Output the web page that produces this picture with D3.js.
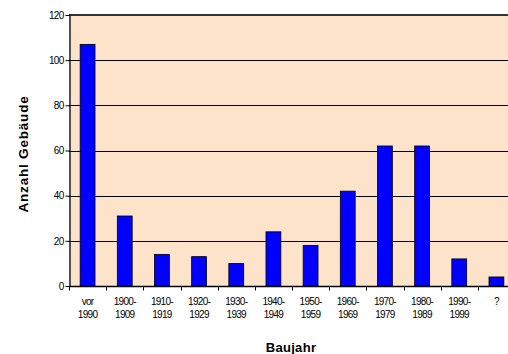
<!DOCTYPE html>
<html>
<head>
<meta charset="utf-8">
<script src="https://cdn.jsdelivr.net/npm/d3@7"></script>
<style>
  html, body { margin: 0; padding: 0; background: #fff; }
  svg { display: block; }
</style>
</head>
<body>
<svg id="chart" width="508" height="354"></svg>
<script>
// Baujahr categories (two-line labels) and number of buildings
const categories = [
  ["vor", "1990"], ["1900-", "1909"], ["1910-", "1919"], ["1920-", "1929"],
  ["1930-", "1939"], ["1940-", "1949"], ["1950-", "1959"], ["1960-", "1969"],
  ["1970-", "1979"], ["1980-", "1989"], ["1990-", "1999"], ["?"]
];
const counts = [107, 31, 14, 13, 10, 24, 18, 42, 62, 62, 12, 4];
const yTicks = [0, 20, 40, 60, 80, 100, 120];

const svg = d3.select("#chart");
const plotLeft = 69, plotRight = 515, plotTop = 15, plotBottom = 286;
const font = "Liberation Sans, Arial, sans-serif";

const x = d3.scaleBand()
  .domain(d3.range(categories.length))
  .range([plotLeft, plotRight])
  .paddingInner(0.6)
  .paddingOuter(0.3);

const y = d3.scaleLinear().domain([0, 120]).range([plotBottom, plotTop]);

// plot area
svg.append("rect")
  .attr("x", plotLeft).attr("y", plotTop)
  .attr("width", plotRight - plotLeft).attr("height", plotBottom - plotTop)
  .attr("fill", "#FDE3C9");

// horizontal gridlines
svg.append("g")
  .selectAll("line")
  .data(yTicks.filter(d => d > 0 && d < 120))
  .join("line")
  .attr("x1", plotLeft).attr("x2", plotRight)
  .attr("y1", d => Math.round(y(d)) + 0.5).attr("y2", d => Math.round(y(d)) + 0.5)
  .attr("stroke", "#000").attr("stroke-width", 1);

// top border
svg.append("line")
  .attr("x1", plotLeft).attr("x2", plotRight)
  .attr("y1", plotTop).attr("y2", plotTop)
  .attr("stroke", "#333").attr("stroke-width", 2);

// bars
svg.append("g")
  .selectAll("rect")
  .data(counts)
  .join("rect")
  .attr("x", (d, i) => x(i))
  .attr("y", d => y(d))
  .attr("width", x.bandwidth())
  .attr("height", d => plotBottom - y(d))
  .attr("fill", "#0000FF")
  .attr("stroke", "#000")
  .attr("stroke-width", 0.8);

// y axis
const yAxis = svg.append("g")
  .attr("transform", `translate(${plotLeft + 0.5},0)`)
  .call(d3.axisLeft(y).tickValues(yTicks).tickSize(4).tickSizeOuter(0).tickPadding(2));
yAxis.select(".domain").attr("stroke", "#000").attr("stroke-width", 1.3);
yAxis.selectAll(".tick line").attr("stroke", "#000");
yAxis.selectAll("text")
  .attr("font-family", font).attr("font-size", 10).attr("fill", "#000")
  .attr("letter-spacing", "-0.7");

// x axis: category boundaries as ticks
const xAxisG = svg.append("g").attr("transform", `translate(0,${plotBottom + 0.5})`);
xAxisG.append("line")
  .attr("x1", plotLeft).attr("x2", plotRight)
  .attr("stroke", "#000").attr("stroke-width", 1.3);
xAxisG.selectAll(".sep")
  .data(d3.range(categories.length))
  .join("line")
  .attr("class", "sep")
  .attr("x1", i => Math.round(x(i) - x.step() * 0.3) + 0.5)
  .attr("x2", i => Math.round(x(i) - x.step() * 0.3) + 0.5)
  .attr("y1", 0).attr("y2", 4)
  .attr("stroke", "#000");

const labels = svg.append("g")
  .selectAll("text")
  .data(categories)
  .join("text")
  .attr("text-anchor", "middle")
  .attr("font-family", font).attr("font-size", 10)
  .attr("letter-spacing", "-0.7")
  .attr("fill", "#000")
  .attr("transform", (d, i) => `translate(${x(i) + x.bandwidth() / 2},${plotBottom})`);
labels.each(function (d) {
  const t = d3.select(this);
  d.forEach((line, k) => {
    t.append("tspan").attr("x", 0).attr("y", 19 + k * 13).text(line);
  });
});

// axis titles
svg.append("text")
  .attr("transform", `translate(23,154) rotate(-90)`)
  .attr("text-anchor", "middle")
  .attr("dominant-baseline", "central")
  .attr("font-family", font).attr("font-weight", "bold").attr("font-size", 13.5)
  .attr("letter-spacing", "0.8")
  .text("Anzahl Gebäude");

svg.append("text")
  .attr("x", 291).attr("y", 352)
  .attr("text-anchor", "middle")
  .attr("font-family", font).attr("font-weight", "bold").attr("font-size", 13)
  .attr("letter-spacing", "0.3")
  .text("Baujahr");
</script>
</body>
</html>
